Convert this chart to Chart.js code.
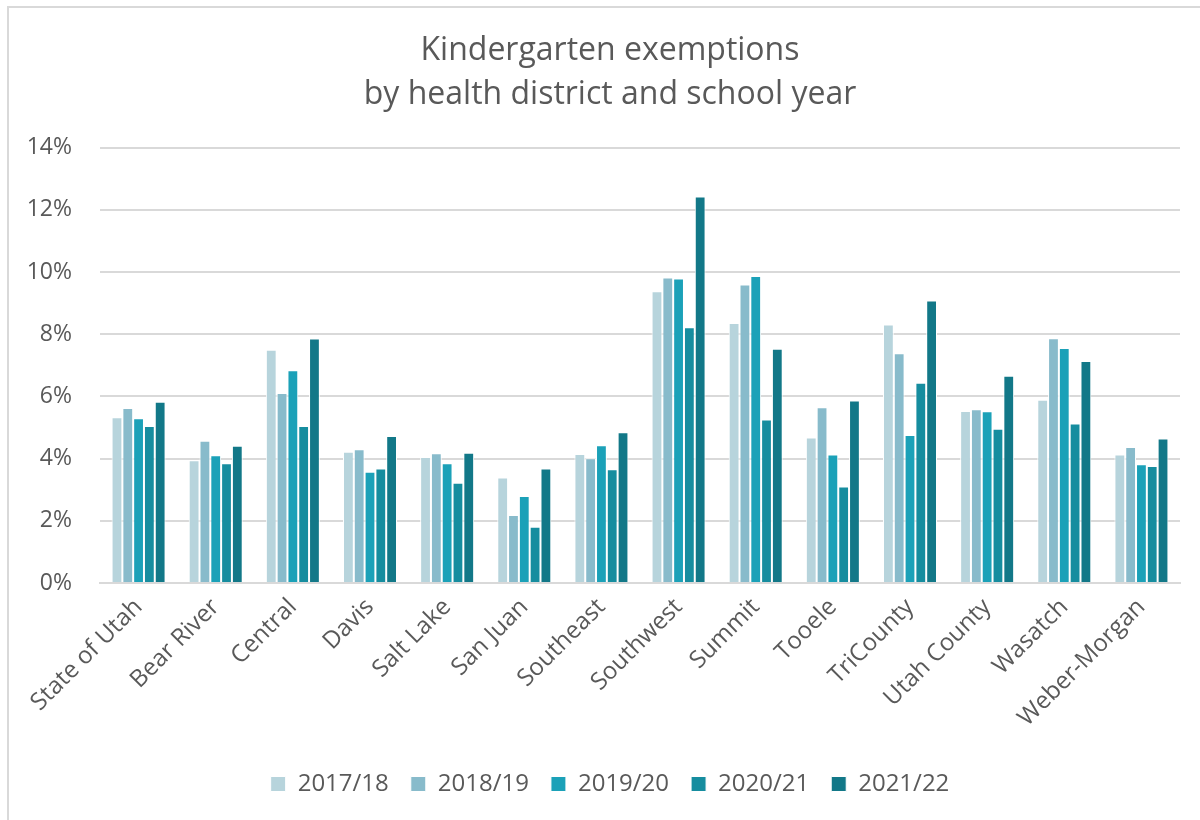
<!DOCTYPE html>
<html>
<head>
<meta charset="utf-8">
<script src="https://cdn.jsdelivr.net/npm/chart.js@4"></script>
<style>
    body { margin: 0; background: #fff; }
    .frame { position: absolute; left: 7px; top: 6px; width: 1193px; height: 814px;
             border-left: 2px solid #d9d9d9; border-top: 2px solid #d9d9d9; }
    .wrap { position: absolute; left: 0; top: 0; width: 1200px; height: 820px; }
</style>
</head>
<body>
<div class="frame"></div>
<div class="wrap"><canvas id="chart" width="1200" height="820"></canvas></div>
<script>
// districts and school years
const districts = ['State of Utah', 'Bear River', 'Central', 'Davis', 'Salt Lake', 'San Juan', 'Southeast',
    'Southwest', 'Summit', 'Tooele', 'TriCounty', 'Utah County', 'Wasatch', 'Weber-Morgan'];
const years = ['2017/18', '2018/19', '2019/20', '2020/21', '2021/22'];

// exemption rates, percent
const y2017 = [5.33, 3.95, 7.50, 4.22, 4.05, 3.39, 4.15, 9.38, 8.36, 4.68, 8.31, 5.53, 5.89, 4.13];
const y2018 = [5.63, 4.57, 6.11, 4.30, 4.17, 2.19, 4.01, 9.82, 9.60, 5.65, 7.39, 5.59, 7.87, 4.37];
const y2019 = [5.30, 4.11, 6.84, 3.58, 3.85, 2.80, 4.43, 9.79, 9.87, 4.13, 4.76, 5.52, 7.56, 3.82];
const y2020 = [5.05, 3.85, 5.05, 3.68, 3.22, 1.81, 3.66, 8.22, 5.26, 3.10, 6.44, 4.96, 5.13, 3.76];
const y2021 = [5.83, 4.41, 7.86, 4.73, 4.19, 3.68, 4.85, 12.43, 7.53, 5.87, 9.08, 6.66, 7.14, 4.65];

const colors = ['#b7d4dc', '#88bbcb', '#1ba1b8', '#168d9f', '#127888'];
const series = [y2017, y2018, y2019, y2020, y2021];

const textColor = '#595959';
const font = 'Open Sans';

// title and legend sit a bit right of the canvas centre in the original
const shiftBlocks = {
    id: 'shiftBlocks',
    afterLayout(chart) {
        chart.titleBlock.left += 20;
        chart.legend.left += 20;
    }
};

new Chart(document.getElementById('chart'), {
    type: 'bar',
    data: {
        labels: districts,
        datasets: series.map((vals, i) => ({
            label: years[i],
            data: vals,
            backgroundColor: colors[i],
            borderColor: '#ffffff',
            borderWidth: 1,
            categoryPercentage: 0.7,
            barPercentage: 1.0
        }))
    },
    options: {
        responsive: false,
        animation: false,
        layout: { padding: { top: 28, right: 20, bottom: 14, left: 20 } },
        plugins: {
            title: {
                display: true,
                text: ['Kindergarten exemptions', 'by health district and school year'],
                color: textColor,
                font: { family: font, size: 32, weight: 'normal', lineHeight: 1.4 },
                padding: { top: 0, bottom: 30 }
            },
            legend: {
                position: 'bottom',
                labels: {
                    color: textColor,
                    font: { family: font, size: 24 },
                    boxWidth: 15,
                    boxHeight: 15,
                    padding: 22
                }
            },
            tooltip: { enabled: false }
        },
        scales: {
            x: {
                grid: { display: false },
                border: { display: true, color: '#d9d9d9', width: 2 },
                ticks: {
                    color: textColor,
                    font: { family: font, size: 24 },
                    minRotation: 45,
                    maxRotation: 45,
                    padding: 2,
                    autoSkip: false
                },
                afterFit: (scale) => { scale.height = 167; }
            },
            y: {
                min: 0,
                max: 14,
                grid: { color: '#d9d9d9', lineWidth: 2, drawTicks: false },
                border: { display: false },
                ticks: {
                    stepSize: 2,
                    color: textColor,
                    font: { family: font, size: 23 },
                    padding: 28,
                    callback: (v) => v + '%'
                },
                afterFit: (scale) => { scale.width = 80; }
            }
        }
    },
    plugins: [shiftBlocks]
});
</script>
</body>
</html>
